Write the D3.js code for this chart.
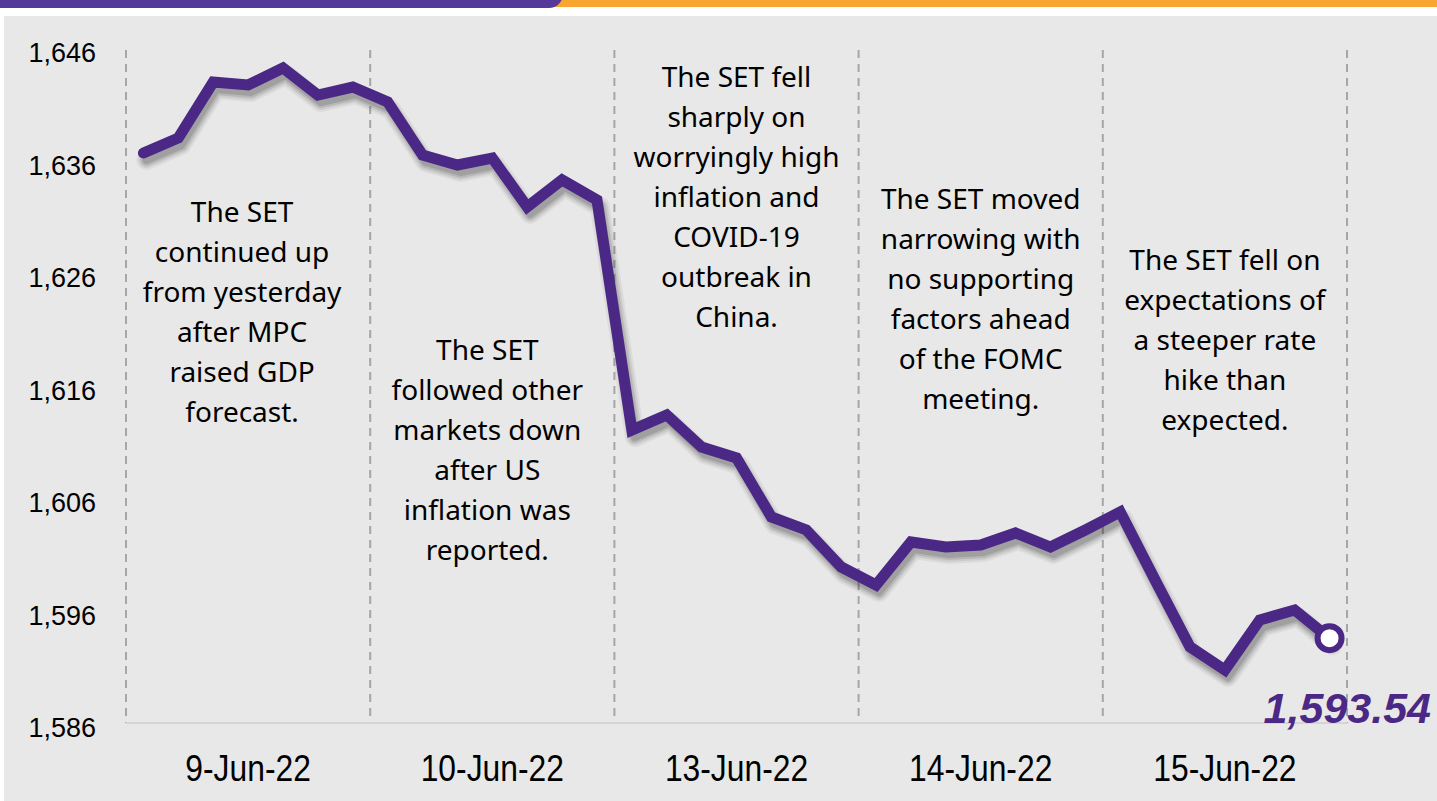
<!DOCTYPE html>
<html lang="en">
<head>
    <meta charset="UTF-8">
    <title>SET Index 9-15 Jun 2022</title>
    <script src="https://cdnjs.cloudflare.com/ajax/libs/d3/7.8.5/d3.min.js"></script>
    <style>
        body { margin: 0; background: #fff; }
        svg { display: block; }
        .tick text { font-family: "Liberation Sans", Arial, sans-serif; fill: #000; }
        .note { font-family: "Noto Sans", "Open Sans", sans-serif; font-size: 28px; fill: #000; }
    </style>
</head>
<body>
    <div id="chart"></div>

    <script>
        // trading days shown on the x axis
        const days = ["9-Jun-22", "10-Jun-22", "13-Jun-22", "14-Jun-22", "15-Jun-22"];

        // SET index, 7 readings per trading day
        const setIndex = [
            1636.67, 1638.00, 1642.98, 1642.71, 1644.22, 1641.82, 1642.53,
            1641.20, 1636.49, 1635.60, 1636.22, 1631.87, 1634.27, 1632.49,
            1612.04, 1613.38, 1610.53, 1609.56, 1604.31, 1603.16, 1599.87,
            1598.27, 1602.09, 1601.64, 1601.82, 1602.89, 1601.64, 1603.16,
            1604.76, 1598.70, 1592.76, 1590.71, 1595.16, 1596.04, 1593.54
        ];

        const yTicks = [1586, 1596, 1606, 1616, 1626, 1636, 1646];
        const lastLabel = "1,593.54";

        // one comment box per day
        const notes = [
            ["The SET", "continued up", "from yesterday", "after MPC", "raised GDP", "forecast."],
            ["The SET", "followed other", "markets down", "after US", "inflation was", "reported."],
            ["The SET fell", "sharply on", "worryingly high", "inflation and", "COVID-19", "outbreak in", "China."],
            ["The SET moved", "narrowing with", "no supporting", "factors ahead", "of the FOMC", "meeting."],
            ["The SET fell on", "expectations of", "a steeper rate", "hike than", "expected."]
        ];

        const width = 1437;
        const height = 801;
        const plot = {left: 126, right: 1347, top: 48, bottom: 723};
        const purple = "#4b2885";

        const svg = d3.select("#chart")
            .append("svg")
            .attr("width", width)
            .attr("height", height);

        // header band: orange strip with purple tab over it
        svg.append("rect")
            .attr("x", 540).attr("y", -10)
            .attr("width", width).attr("height", 17)
            .attr("fill", "#f9a531");
        svg.append("rect")
            .attr("x", -20).attr("y", -20)
            .attr("width", 583).attr("height", 28)
            .attr("rx", 14)
            .attr("fill", "#54399a");

        // panel
        svg.append("rect")
            .attr("x", 4).attr("y", 16)
            .attr("width", width - 4).attr("height", height - 16)
            .attr("fill", "#e8e8e8");

        const x = d3.scaleBand()
            .domain(days)
            .range([plot.left, plot.right]);

        const xi = d3.scaleLinear()
            .domain([0, setIndex.length])
            .range([plot.left, plot.right]);

        const y = d3.scaleLinear()
            .domain([1586, 1646])
            .range([plot.bottom, plot.top]);

        // dashed day separators
        const seps = days.map(d => x(d)).concat([plot.right]);
        svg.append("g")
            .selectAll("line")
            .data(seps)
            .join("line")
            .attr("x1", d => d).attr("x2", d => d)
            .attr("y1", 50).attr("y2", plot.bottom)
            .attr("stroke", "#a6a6a6")
            .attr("stroke-width", 2)
            .attr("stroke-dasharray", "8,6");

        // base line
        svg.append("line")
            .attr("x1", plot.left).attr("x2", plot.right)
            .attr("y1", plot.bottom).attr("y2", plot.bottom)
            .attr("stroke", "#d4d4d4")
            .attr("stroke-width", 2);

        // y axis
        svg.append("g")
            .attr("transform", `translate(${plot.left},0)`)
            .call(d3.axisLeft(y).tickValues(yTicks).tickSize(0).tickPadding(30).tickFormat(d3.format(",")))
            .call(g => g.select(".domain").remove())
            .selectAll("text")
            .attr("font-size", 27)
            .attr("dy", "0.5em");

        // x axis labels
        svg.append("g")
            .selectAll("text")
            .data(days)
            .join("text")
            .attr("class", "tick")
            .attr("transform", d => `translate(${x(d) + x.bandwidth() / 2},781) scale(0.86,1)`)
            .attr("text-anchor", "middle")
            .attr("font-family", "'Liberation Sans', Arial, sans-serif")
            .attr("font-size", 37)
            .text(d => d);

        // annotations
        const noteShift = [-6, -5, 0, 0, 0];
        const noteTop = [222, 360, 87, 209, 270];
        notes.forEach((lines, i) => {
            const t = svg.append("text")
                .attr("class", "note")
                .attr("text-anchor", "middle");
            lines.forEach((s, j) => {
                t.append("tspan")
                    .attr("x", x(days[i]) + x.bandwidth() / 2 + noteShift[i])
                    .attr("y", noteTop[i] + j * 40)
                    .text(s);
            });
        });

        // index line
        const line = d3.line()
            .x((d, i) => xi(i + 0.5))
            .y(d => y(d));

        // fake soft shadow: a few offset translucent strokes
        const shadowG = svg.append("g").attr("transform", "translate(3,7)");
        [[20, 0.05], [16, 0.07], [12, 0.1], [8, 0.12]].forEach(([w, o]) => {
            shadowG.append("path")
                .datum(setIndex)
                .attr("d", line)
                .attr("fill", "none")
                .attr("stroke", "#000")
                .attr("stroke-opacity", o)
                .attr("stroke-width", w)
                .attr("stroke-linecap", "round")
                .attr("stroke-linejoin", "round");
        });

        svg.append("path")
            .datum(setIndex)
            .attr("d", line)
            .attr("fill", "none")
            .attr("stroke", purple)
            .attr("stroke-width", 11)
            .attr("stroke-linecap", "round")
            .attr("stroke-linejoin", "miter");

        // last value marker
        const n = setIndex.length - 1;
        svg.append("circle")
            .attr("cx", xi(n + 0.5))
            .attr("cy", y(setIndex[n]))
            .attr("r", 12)
            .attr("fill", "#fff")
            .attr("stroke", purple)
            .attr("stroke-width", 6);

        svg.append("text")
            .attr("x", 1431)
            .attr("y", 723)
            .attr("text-anchor", "end")
            .attr("font-family", "'Liberation Sans', Arial, sans-serif")
            .attr("font-size", 43)
            .attr("font-weight", "bold")
            .attr("font-style", "italic")
            .attr("fill", purple)
            .text(lastLabel);
    </script>
</body>
</html>
